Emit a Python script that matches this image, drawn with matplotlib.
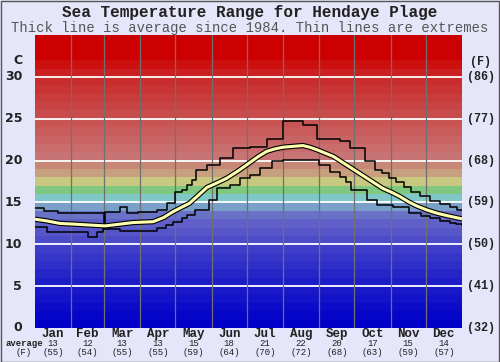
import matplotlib
matplotlib.use('Agg')
import matplotlib.pyplot as plt
import matplotlib.transforms as mtransforms
import numpy as np

# Data (day of year, temperature in C)
months = ['Jan', 'Feb', 'Mar', 'Apr', 'May', 'Jun', 'Jul', 'Aug', 'Sep', 'Oct', 'Nov', 'Dec']
month_avg_c = [13, 12, 13, 13, 15, 18, 21, 22, 20, 17, 15, 14]
month_avg_f = [55, 54, 55, 55, 59, 64, 70, 72, 68, 63, 59, 57]
month_days = [31, 28, 31, 30, 31, 30, 31, 31, 30, 31, 30, 31]

max_days = [0, 8, 20, 30, 58, 59, 60, 73, 79, 88, 104, 113, 120, 126, 130, 134, 138, 147,
            158, 169, 184, 198, 212, 229, 241, 261, 269, 282, 291, 297, 303, 309, 315,
            321, 329, 338, 346, 355, 361, 365]
max_temp = [14.3, 14.0, 13.7, 13.8, 13.8, 12.0, 13.9, 14.4, 13.8, 13.9, 14.1, 14.9, 16.2,
            16.5, 17.1, 17.7, 18.9, 19.5, 20.3, 21.5, 21.6, 22.6, 24.7, 24.3, 22.6, 22.3,
            21.5, 19.9, 18.9, 18.5, 17.9, 17.4, 16.9, 16.3, 15.8, 15.2, 14.8, 14.4, 14.1, 14.1]

min_days = [0, 10, 30, 45, 53, 58, 73, 104, 112, 118, 126, 130, 137, 149, 156, 167, 175,
            184, 192, 203, 212, 243, 252, 261, 266, 270, 284, 292, 306, 320, 330, 338,
            346, 355, 360, 365]
min_temp = [12.1, 11.5, 11.5, 10.9, 11.5, 11.8, 11.6, 11.9, 12.3, 12.7, 13.1, 13.5, 14.1,
            15.3, 16.7, 17.1, 17.9, 18.3, 19.1, 20.0, 20.1, 19.5, 18.7, 18.1, 17.5, 16.5,
            15.3, 14.7, 14.4, 13.8, 13.4, 13.2, 12.8, 12.6, 12.4, 12.3]

avg_days = [0, 10, 21, 35, 47, 60, 72, 84, 101, 110, 118, 125, 132, 140, 147, 155, 164,
            175, 184, 191, 198, 205, 212, 220, 229, 235, 241, 248, 255, 265, 275, 286,
            297, 305, 312, 319, 326, 335, 344, 353, 363, 365]
avg_temp = [13.0, 12.8, 12.5, 12.4, 12.3, 12.2, 12.4, 12.6, 12.7, 13.2, 13.9, 14.4, 14.9,
            15.9, 16.8, 17.3, 17.9, 18.9, 19.8, 20.5, 21.1, 21.4, 21.6, 21.7, 21.8, 21.6,
            21.3, 20.9, 20.5, 19.6, 18.7, 17.7, 16.7, 16.2, 15.7, 15.1, 14.6, 14.1, 13.7,
            13.4, 13.1, 13.05]

# colour of each 1 degree band, from 0 C upwards
band_colors = ['#0000c8', '#0606c8', '#0c0cc8', '#1212c8', '#1818c8', '#1e1ec8', '#2626c8',
               '#2e2ec8', '#3636c8', '#3e3ec8', '#4c4cc8', '#5656c8', '#6060c8', '#6a72c8',
               '#78a0c8', '#80c8c8', '#80c880', '#c8c880', '#c8a080', '#c88878', '#c87474',
               '#c86c6c', '#c86464', '#c85c5c', '#c85454', '#c84c4c', '#c84444', '#c83c3c',
               '#c83434', '#c82c2c', '#cc2020', '#cc1010', '#cc0000', '#cc0000', '#cc0000']

bg = '#e6e6fa'
mono = 'Liberation Mono'
ink = '#222222'
H = 362.0

fig = plt.figure(figsize=(5, 3.62), dpi=100, facecolor=bg)
ax = fig.add_axes([0.07, 0.094, 0.854, 0.809])
ax.set_xlim(0, 365)
ax.set_ylim(0, 35)

for i, c in enumerate(band_colors):
    ax.axhspan(i, i + 1, color=c, lw=0, zorder=0)

for t in range(5, 35, 5):
    ax.axhline(t, color='white', lw=1.3, zorder=1)

starts = np.cumsum([0] + month_days)
for d in starts[1:-1]:
    ax.axvline(d, color='#707070', lw=0.9, zorder=1)

ax.step(max_days, max_temp, where='post', color='black', lw=1.1, zorder=3)
ax.step(min_days, min_temp, where='post', color='black', lw=1.1, zorder=3)
ax.plot(avg_days, avg_temp, color='black', lw=3.8, zorder=4, solid_capstyle='butt')
ax.plot(avg_days, avg_temp, color='#ffffb0', lw=2.2, zorder=5, solid_capstyle='butt')

for s in ax.spines.values():
    s.set_visible(False)
ax.set_xticks([])
ax.set_yticks([])

# left (C) and right (F) labels
for t in range(0, 35, 5):
    ax.text(-11, t, str(t), ha='right', va='center', fontsize=9, fontweight='bold',
            family='DejaVu Sans', color=ink)
    ax.text(369, t, '(%d)' % round(t * 9 / 5 + 32), ha='left', va='center', fontsize=8.5,
            fontweight='bold', family=mono, color=ink)
ax.text(-11, 32.0, 'C', ha='right', va='center', fontsize=9, fontweight='bold',
        family='DejaVu Sans', color=ink)
ax.text(381, 31.8, '(F)', ha='center', va='center', fontsize=8.5, fontweight='bold',
        family=mono, color=ink)

# month labels and monthly averages
trans = mtransforms.blended_transform_factory(ax.transData, fig.transFigure)
for i, m in enumerate(months):
    mid = (starts[i] + starts[i + 1]) / 2
    ax.text(mid, 1 - 334 / H, m, transform=trans, ha='center', va='center', fontsize=9,
            fontweight='bold', family=mono, color=ink)
    ax.text(mid, 1 - 343.5 / H, str(month_avg_c[i]), transform=trans, ha='center',
            va='center', fontsize=6.5, family=mono, color=ink)
    ax.text(mid, 1 - 352.5 / H, '(%d)' % month_avg_f[i], transform=trans, ha='center',
            va='center', fontsize=6.5, family=mono, color=ink)
fig.text(43 / 500, 1 - 343.5 / H, 'average', ha='right', va='center', fontsize=6.5,
         family=mono, fontweight='bold', color=ink)
fig.text(24 / 500, 1 - 352.5 / H, '(F)', ha='center', va='center', fontsize=6.5,
         family=mono, color=ink)

fig.text(0.5, 1 - 13 / H, 'Sea Temperature Range for Hendaye Plage', ha='center',
         va='center', fontsize=11.5, fontweight='bold', family=mono, color=ink)
fig.text(0.5, 1 - 28 / H, 'Thick line is average since 1984. Thin lines are extremes',
         ha='center', va='center', fontsize=10, family=mono, color='#555555')

fig.add_artist(plt.Rectangle((0.001, 0.001), 0.997, 0.997, transform=fig.transFigure,
                             fill=False, edgecolor='#555555', lw=1))

plt.savefig('out.png', dpi=100, facecolor=bg)
